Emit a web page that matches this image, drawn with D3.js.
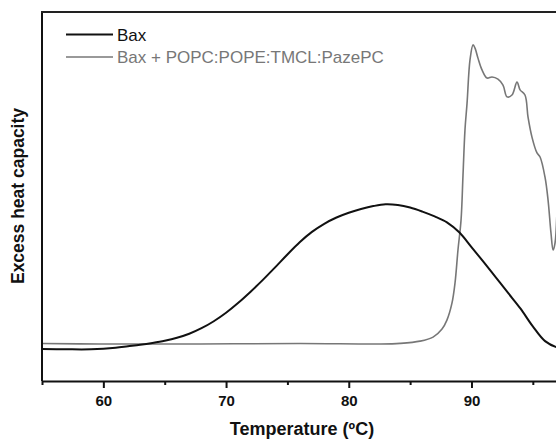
<!DOCTYPE html>
<html>
<head>
<meta charset="utf-8">
<script src="https://cdn.jsdelivr.net/npm/d3@7"></script>
<style>
  html, body { margin: 0; padding: 0; background: #fff; }
  svg { display: block; font-family: "Liberation Sans", Arial, sans-serif; }
</style>
</head>
<body>
<svg id="chart" width="556" height="441"></svg>
<script>
// Temperature (°C) and excess heat capacity (arbitrary units)
const baxTemp = [55, 57, 59, 61, 62, 63, 64, 65, 66, 67, 68, 69, 70, 71, 72, 73, 74, 75, 76, 77, 78, 79, 80, 81, 82, 83, 84, 85, 86, 87, 88, 89, 90, 91, 92, 93, 94, 95, 96, 97, 98];
const baxCp   = [8.7, 8.6, 8.6, 9.0, 9.4, 9.8, 10.3, 10.9, 11.7, 12.8, 14.3, 16.2, 18.5, 21.2, 24.2, 27.4, 30.8, 34.3, 37.6, 40.4, 42.6, 44.3, 45.6, 46.6, 47.4, 47.9, 47.7, 47.0, 45.9, 44.6, 43.0, 40.3, 36.3, 32.2, 28.0, 23.8, 19.6, 14.8, 10.8, 9.1, 8.8];

const lipTemp = [55.0, 59.73, 67.88, 76.03, 82.55, 84.18, 85.81, 86.87, 87.6, 88.0, 88.41, 88.66, 88.9, 89.15, 89.31, 89.47, 89.64, 89.88, 90.13, 90.29, 90.53, 90.86, 91.27, 91.67, 92.16, 92.57, 92.9, 93.3, 93.71, 93.96, 94.36, 94.61, 94.93, 95.34, 95.59, 95.99, 96.24, 96.48, 96.65, 96.81, 96.97];
const lipCp   = [10.16, 10.03, 10.03, 10.16, 10.03, 10.2, 10.8, 11.9, 14.1, 16.5, 21.1, 26.6, 35.5, 43.6, 55.8, 68.0, 75.3, 87.0, 91.1, 90.2, 87.5, 84.3, 82.1, 82.4, 81.8, 80.2, 77.0, 77.5, 81.0, 78.9, 77.5, 71.5, 66.1, 61.8, 60.7, 55.3, 49.1, 40.1, 35.5, 37.4, 46.3];

const majorTicks = [60, 70, 80, 90];
const minorTicks = [55, 65, 75, 85, 95];
const seriesNames = ["Bax", "Bax + POPC:POPE:TMCL:PazePC"];
const seriesColors = ["#111111", "#777777"];

(function () {
const svg = d3.select("#chart");
const mLeft = 42, mTop = 12, mBottom = 381, mRight = 563.5;

const x = d3.scaleLinear().domain([55, 97.5]).range([mLeft, mRight]);
const y = d3.scaleLinear().domain([0, 100]).range([mBottom, mTop]);

const line = d3.line()
  .x(d => x(d[0])).y(d => y(d[1]))
  .curve(d3.curveCatmullRom.alpha(0.5));

const baxData = baxTemp.map((t, i) => [t, baxCp[i]]);
const lipData = lipTemp.map((t, i) => [t, lipCp[i]]);

svg.append("defs").append("clipPath").attr("id", "clip")
  .append("rect").attr("x", mLeft).attr("y", mTop).attr("width", mRight - mLeft).attr("height", mBottom - mTop);

const plot = svg.append("g").attr("clip-path", "url(#clip)");
plot.append("path").datum(lipData).attr("d", line)
  .attr("fill", "none").attr("stroke", seriesColors[1]).attr("stroke-width", 1.6);
plot.append("path").datum(baxData).attr("d", line)
  .attr("fill", "none").attr("stroke", seriesColors[0]).attr("stroke-width", 2);

// frame: left and top lines
svg.append("line").attr("x1", mLeft).attr("x2", mLeft).attr("y1", mTop).attr("y2", mBottom)
  .attr("stroke", "#111").attr("stroke-width", 2);
svg.append("line").attr("x1", mLeft - 1).attr("x2", 556).attr("y1", mTop).attr("y2", mTop)
  .attr("stroke", "#222").attr("stroke-width", 2);

// bottom axis with major ticks
const xAxis = d3.axisBottom(x).tickValues(majorTicks).tickSize(7).tickSizeOuter(0).tickPadding(7);
const gx = svg.append("g").attr("transform", `translate(0,${mBottom})`).call(xAxis);
gx.select(".domain").attr("stroke", "#111").attr("stroke-width", 2);
gx.selectAll(".tick line").attr("stroke", "#111").attr("stroke-width", 2);
gx.selectAll(".tick text").attr("font-size", 15).attr("font-weight", "bold")
  .attr("fill", "#111").attr("font-family", "Liberation Sans, Arial, sans-serif");

// minor ticks
const xMinor = d3.axisBottom(x).tickValues(minorTicks).tickSize(4).tickSizeOuter(0).tickFormat("");
const gm = svg.append("g").attr("transform", `translate(0,${mBottom})`).call(xMinor);
gm.select(".domain").remove();
gm.selectAll(".tick line").attr("stroke", "#111").attr("stroke-width", 2);

// axis titles
svg.append("text").attr("x", 302).attr("y", 435).attr("text-anchor", "middle")
  .attr("font-size", 18).attr("font-weight", "bold").attr("fill", "#111")
  .text("Temperature (ºC)");
svg.append("text").attr("transform", "translate(24,196) rotate(-90)").attr("text-anchor", "middle")
  .attr("font-size", 17.5).attr("font-weight", "bold").attr("fill", "#111")
  .text("Excess heat capacity");

// legend
const legY = [34.5, 57];
const legend = svg.append("g");
seriesNames.forEach((name, i) => {
  legend.append("line").attr("x1", 66).attr("x2", 113).attr("y1", legY[i]).attr("y2", legY[i])
    .attr("stroke", seriesColors[i]).attr("stroke-width", i === 0 ? 2 : 1.5);
  legend.append("text").attr("x", 117).attr("y", legY[i] + 6)
    .attr("font-size", 17).attr("fill", seriesColors[i]).text(name);
});
})();
</script>
</body>
</html>
